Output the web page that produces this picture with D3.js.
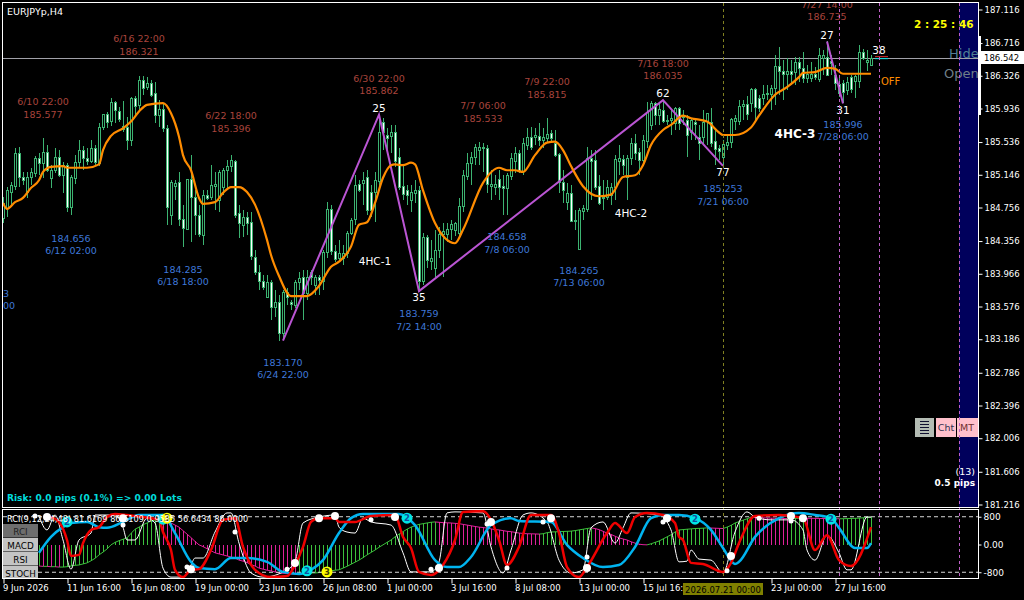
<!DOCTYPE html>
<html>
<head>
<meta charset="utf-8">
<script src="https://cdn.jsdelivr.net/npm/d3@7"></script>
<style>
    html, body { margin: 0; padding: 0; background: #000; overflow: hidden; }
    svg { display: block; }
    text { font-family: "DejaVu Sans", sans-serif; }
</style>
</head>
<body>
<svg id="chart" width="1024" height="600"></svg>
<script>
// candles, 4H bars
const opens = [
184.63,184.75,184.94,185.02,185.41,185.12,184.94,185.12,185.17,185.35,
185.29,185.42,185.11,185.20,185.36,185.14,185.26,184.76,185.11,185.30,
185.44,185.35,185.32,185.47,185.29,185.72,185.87,185.78,186.01,185.91,
185.70,185.72,185.56,186.06,185.98,186.28,186.19,186.24,186.12,185.86,
185.93,185.70,184.67,185.02,185.06,184.62,184.51,185.10,184.88,184.67,
184.43,184.91,184.88,185.02,184.85,185.00,185.20,185.25,185.31,184.69,
184.55,184.64,184.58,184.17,183.99,183.88,183.69,183.87,183.57,183.63,
183.26,183.75,183.63,183.59,183.87,183.93,183.74,183.99,183.83,183.93,
183.89,184.23,184.74,184.24,184.15,184.15,184.21,184.45,184.61,185.04,
185.04,185.12,184.94,184.94,185.08,185.78,185.62,185.61,185.66,185.36,
185.01,184.97,184.85,184.93,184.97,183.88,184.41,184.12,184.04,184.25,
184.44,184.44,184.50,184.49,184.45,184.77,185.14,185.29,185.36,185.44,
185.47,185.47,185.02,185.01,185.10,185.01,184.99,185.14,185.32,185.41,
185.20,185.51,185.60,185.60,185.61,185.56,185.58,185.64,185.53,185.39,
185.06,184.82,184.93,184.61,184.27,184.71,184.74,185.35,185.32,185.01,
184.88,184.88,184.91,185.00,185.32,185.33,185.12,185.35,185.53,185.42,
185.32,185.55,185.74,186.00,185.86,185.92,185.79,185.80,185.76,185.94,
185.85,185.80,185.66,185.78,185.60,185.60,185.78,185.78,185.55,185.47,
185.36,185.51,185.53,185.78,185.79,185.97,185.99,186.00,186.17,186.06,
186.06,186.11,186.11,186.18,186.44,186.38,186.35,186.38,186.37,186.49,
186.42,186.30,186.30,186.35,186.28,186.54,186.55,186.50,186.34,186.23,
186.24,186.16,186.31,186.26,186.26,186.61,186.49,186.46];
const highs = [
184.88,185.00,185.06,185.47,185.48,185.18,185.18,185.23,185.37,185.41,
185.58,185.50,185.26,185.47,185.44,185.30,185.29,185.14,185.38,185.56,
185.49,185.47,185.56,185.50,185.76,185.87,185.90,186.06,186.03,185.95,
186.03,185.84,186.07,186.09,186.32,186.32,186.31,186.28,186.25,186.04,
185.99,185.74,185.08,185.08,185.18,184.79,185.10,185.38,184.97,184.79,
184.97,184.97,185.26,185.18,185.20,185.23,185.32,185.38,185.32,184.79,
184.73,184.70,184.70,184.25,184.07,183.95,183.95,183.89,183.77,183.71,
183.77,183.80,183.65,183.89,183.99,184.01,184.01,184.01,183.95,183.95,
184.25,184.82,184.79,184.31,184.37,184.31,184.48,184.63,185.14,185.08,
185.18,185.20,185.02,185.18,185.86,185.82,185.70,185.74,185.74,185.47,
185.26,185.02,185.02,185.08,185.01,184.45,184.43,184.37,184.49,184.52,
184.57,184.57,184.61,184.58,184.87,185.20,185.41,185.42,185.51,185.54,
185.53,185.50,185.20,185.14,185.20,185.14,185.17,185.41,185.48,185.44,
185.59,185.70,185.72,185.70,185.76,185.70,185.82,185.68,185.68,185.41,
185.20,185.05,185.02,184.73,184.75,184.79,185.48,185.44,185.44,185.14,
185.08,185.08,185.05,185.38,185.50,185.38,185.38,185.58,185.63,185.47,
185.62,186.01,186.02,186.01,185.99,186.04,185.86,185.92,185.95,185.95,
185.92,185.86,185.82,185.82,185.74,185.92,185.88,185.94,185.68,185.50,
185.56,185.62,185.82,185.86,186.04,186.04,186.09,186.18,186.18,186.10,
186.22,186.22,186.22,186.57,186.67,186.51,186.54,186.51,186.55,186.55,
186.61,186.46,186.49,186.43,186.66,186.63,186.735,186.57,186.46,186.34,
186.28,186.31,186.34,186.34,186.69,186.65,186.63,186.57];
const lows = [
184.57,184.64,184.79,184.97,185.00,185.02,184.87,185.02,185.12,185.14,
185.11,185.18,184.99,185.17,185.12,184.93,184.70,184.67,185.04,185.23,
185.20,185.26,185.29,185.26,185.25,185.68,185.70,185.73,185.76,185.78,
185.66,185.44,185.49,185.86,185.92,186.10,186.16,186.07,185.76,185.72,
185.66,184.55,184.55,184.85,184.54,184.29,184.49,184.35,184.43,184.41,
184.31,184.85,184.85,184.73,184.70,184.91,184.97,185.18,184.63,184.39,
184.41,184.43,184.13,183.95,183.77,183.77,183.68,183.42,183.45,183.17,
183.18,183.59,183.53,183.56,183.77,183.42,183.65,183.83,183.71,183.71,
183.77,184.15,184.19,184.11,184.11,184.07,184.15,184.43,184.55,184.94,
184.79,184.67,184.64,184.58,184.96,185.44,185.44,185.41,185.24,184.97,
184.85,184.79,184.70,184.81,183.76,183.83,184.04,184.01,183.93,184.15,
183.93,184.35,184.37,184.42,184.40,184.70,185.08,185.02,185.26,185.26,
185.18,184.93,184.85,184.91,184.85,184.67,184.67,185.08,185.17,185.17,
185.14,185.44,185.44,185.50,185.49,185.47,185.53,185.53,185.36,184.93,
184.81,184.73,184.58,184.49,184.27,184.61,184.70,184.85,184.97,184.79,
184.73,184.85,184.79,184.85,185.14,185.14,184.85,185.26,185.32,185.14,
185.26,185.47,185.68,185.74,185.74,185.76,185.74,185.62,185.68,185.68,
185.74,185.36,185.56,185.56,185.32,185.50,185.50,185.48,185.26,185.32,
185.25,185.44,185.47,185.68,185.74,185.80,185.80,185.90,185.80,185.90,
185.98,186.04,185.92,185.98,186.10,186.04,186.16,186.22,186.22,186.25,
186.24,186.24,186.25,186.28,186.25,186.34,186.34,186.34,186.16,186.07,
185.996,186.10,186.12,186.06,186.18,186.51,186.38,186.44];
const closes = [
184.81,184.97,185.02,185.41,185.12,185.08,185.12,185.18,185.35,185.29,
185.42,185.20,185.20,185.36,185.14,185.26,184.76,185.12,185.30,185.44,
185.35,185.32,185.47,185.30,185.72,185.87,185.78,186.01,185.91,185.81,
185.73,185.56,186.06,185.97,186.28,186.19,186.24,186.10,185.86,185.93,
185.70,184.76,185.06,185.05,184.62,184.51,185.10,184.88,184.67,184.44,
184.91,184.88,185.02,185.04,185.18,185.20,185.25,185.32,184.67,184.57,
184.64,184.57,184.17,183.99,183.88,183.81,183.87,183.57,183.63,183.26,
183.75,183.69,183.61,183.87,183.92,183.74,183.93,183.93,183.93,183.89,
184.23,184.74,184.24,184.15,184.21,184.21,184.45,184.61,185.02,184.97,
185.08,184.73,184.73,185.08,185.66,185.66,185.59,185.66,185.32,185.00,
184.91,184.91,184.94,184.97,183.88,184.41,184.14,184.15,184.25,184.44,
184.47,184.50,184.56,184.57,184.77,185.14,185.29,185.36,185.48,185.48,
185.48,185.04,185.04,185.04,185.00,184.99,185.14,185.35,185.41,185.19,
185.53,185.60,185.48,185.62,185.56,185.60,185.63,185.58,185.39,185.06,
184.97,184.93,184.60,184.60,184.73,184.75,185.35,185.32,185.00,184.81,
184.87,185.00,185.00,185.33,185.35,185.26,185.35,185.53,185.41,185.32,
185.56,185.89,186.00,185.86,185.93,185.79,185.80,185.82,185.94,185.76,
185.84,185.62,185.80,185.76,185.53,185.78,185.88,185.53,185.45,185.43,
185.51,185.54,185.81,185.82,185.97,185.99,185.87,186.17,185.95,185.94,
186.11,186.12,186.18,186.44,186.38,186.35,186.38,186.35,186.49,186.42,
186.30,186.35,186.35,186.32,186.57,186.57,186.34,186.48,186.24,186.12,
186.13,186.25,186.17,186.32,186.61,186.54,186.51,186.542];

// orange moving average, read at these bars
const maBars = [0,1,3,5,7,9,10,12,15,16,21,24,25,27,30,32,34,36,40,42,44,45,47,49,50,53,55,57,59,61,63,66,67,69,72,76,79,82,84,87,89,91,93,95,97,98,100,102,103,105,108,113,115,120,124,126,128,130,133,136,138,140,142,145,149,152,155,158,160,162,165,167,170,172,176,179,180,183,187,189,193,196,199,200,203,206,208,210,217];
const maVals = [184.81,184.74,184.82,184.87,184.99,185.08,185.18,185.24,185.25,185.23,185.23,185.27,185.44,185.61,185.70,185.78,185.90,185.98,186.00,185.88,185.60,185.38,185.20,184.87,184.80,184.82,184.93,185.00,185.00,184.94,184.79,184.37,184.19,183.94,183.70,183.70,183.82,184.05,184.11,184.29,184.55,184.58,184.81,185.11,185.26,185.27,185.26,185.29,185.27,184.96,184.57,184.33,184.49,185.05,185.23,185.20,185.20,185.18,185.38,185.53,185.54,185.44,185.25,185.01,184.89,184.91,185.12,185.14,185.26,185.50,185.68,185.74,185.85,185.82,185.78,185.65,185.62,185.62,185.71,185.85,186.10,186.19,186.31,186.36,186.37,186.42,186.41,186.35,186.35];

// zigzag pivots
const zigBars1 = [70,94,104,165,180];
const zigVals1 = [183.170,185.862,183.759,186.035,185.253];
const zigBars2 = [206,210];
const zigVals2 = [186.735,185.996];

const priceTicks = [187.116,186.716,186.326,185.936,185.536,185.146,184.756,184.356,183.966,183.576,183.186,182.786,182.396,182.006,181.606,181.216];
const lastPrice = 186.542;

// pivot notes: [bar, text, text]
const highNotes = [[10,"6/10 22:00","185.577"],[34,"6/16 22:00","186.321"],[57,"6/22 18:00","185.396"],[94,"6/30 22:00","185.862"],[120,"7/7 06:00","185.533"],[136,"7/9 22:00","185.815"],[165,"7/16 18:00","186.035"],[206,"7/27 14:00","186.735"]];
const highNotePrices = [185.976,186.726,185.806,186.256,185.926,186.216,186.436,187.134];
const lowNotes = [[17,"184.656","6/12 02:00"],[45,"184.285","6/18 18:00"],[70,"183.170","6/24 22:00"],[104,"183.759","7/2 14:00"],[126,"184.658","7/8 06:00"],[144,"184.265","7/13 06:00"],[180,"185.253","7/21 06:00"],[210,"185.996","7/28 06:00"]];
const lowNotePrices = [184.348,183.978,182.868,183.448,184.368,183.968,184.938,185.708];
const waveCounts = [["25",94,185.898],["35",104,183.638],["62",165,186.068],["77",180,185.128],["27",206,186.768],["31",210,185.868],["38",219,186.588]];

// sub window
const histStart = 9;
const histVals = [
-62,-63,-63,-64,-64,-65,-65,-64,-62,-60,
-59,-56,-53,-47,-40,-30,-22,-13,-1,6,
11,15,19,32,44,50,57,62,68,70,
71,70,67,62,56,50,40,30,20,9,
-1,-6,-12,-18,-24,-27,-30,-33,-36,-39,
-45,-48,-52,-58,-62,-68,-71,-74,-76,-79,
-82,-83,-84,-84.5,-85,-84,-83,-83,-82,-82,
-81,-80,-79,-76,-74,-73,-68,-63,-57,-51,
-45,-38,-30,-23,-16,-8,-1,6,13,22,
30,37,44,50,54,58,60,62,64,65,
64,63,62.5,62,61,60,58,56,54,52,
50,49,47,45,43,42,40,38,37,35,
33,32,31,30.8,30.4,30,31,34,36,36.5,
37,37.5,38,38.5,40,42,44,46,48,46,
43,38,33,29,24,19,16,13,8,4,
1,-0.5,-1,2,6,10,16,22,28,36,
42,43,44,45,46,46.5,47,48,47.5,47,
46.5,46,50,55,62,66,70,74,79,78,
77.5,77,76.5,76,75.7,75.4,75.1,74.8,75,75.3,
75.6,75.9,75.7,75.5,75.3,75.1,74.9,74.7,74.5,74.3,
74.1,74.3,74.6,75,75.5,76,77,78,79];
const redBars = [12,14,16,17,19,20,22,24,26,28,31,35,39,40,42,43,45,47,49,52,55,58,60,63,67,71,73,75,77,79,83,84,88,92,98,100,102,104,107,110,113,115,120,122,124,126,129,132,137,139,141,144,146,151,153,156,158,161,165,168,169,170,172,175,180,182,184,188,194,200,203,206,209,212,217];
const redVals = [79,65,13,-33,-30,4,42,50,79,88,85,79,71,36,-16,-73,-94,-73,-71,-16,71,76,-7,-73,-94,-91,-59,-7,65,76,76,65,65,82,85,22,-10,-79,-88,-59,13,94,96,71,13,-59,-7,85,85,33,-65,-94,-65,33,62,33,79,91,85,62,22,13,-53,-56,-79,-53,4,82,85,76,-16,27,-45,-62,50];
const blueBars = [9,12,15,17,21,24,26,30,34,40,43,47,49,53,57,61,66,70,74,77,80,84,87,90,99,103,108,111,114,117,122,127,129,137,141,145,150,154,158,162,165,169,173,177,180,183,184,188,194,199,203,207,209,213,216,217];
const blueVals = [-24,22,50,62,65,50,48,65,85,85,33,-50,-68,-71,-39,-39,-50,-79,-85,-73,-45,33,76,88,88,56,-45,-65,-65,-36,56,76,68,65,-1,-39,-65,-59,-7,76,85,85,76,42,-10,-56,-50,22,76,91,85,76,48,-10,-10,4];
const whiteBars = [9,11,13,15,17,19,22,23,28,30,31,33,36,38,40,42,45,47,48,50,53,56,57,59,62,65,71,73,75,79,83,84,86,88,90,92,97,100,102,107,109,111,113,120,122,125,127,130,132,136,139,142,145,147,150,153,155,157,164,167,169,171,172,174,177,180,183,186,188,192,197,200,201,203,206,209,211,212,216,217];
const whiteVals = [82,42,85,13,-71,13,33,85,85,50,13,13,76,62,-68,-94,-94,-59,-39,-39,36,91,91,4,-82,-94,-73,-50,62,79,85,50,36,33,76,65,56,-24,-79,-79,-50,91,94,91,-7,-82,-16,85,91,65,-45,-82,-73,48,65,4,48,91,85,42,-50,-48,-16,-42,-45,-82,36,94,79,71,71,42,-16,-45,27,-24,-73,-73,79,79];
const bigDots = [[11,79],[30,76],[47,-71],[73,-53],[79,76],[83,82],[98,79],[109,-68],[122,65],[137,76],[146,-68],[166,76],[182,-33],[197,82],[200,76]];
const smallDots = [[8,82],[30,56],[58,36],[46,-65],[71,-71],[92,71],[107,-71],[121,59],[126,-68],[135,65],[146,-36],[165,65],[181,-76],[189,76],[197,68]];
const cyanBadges = [[16,65],[40,73],[76,-76],[101,76],[173,73],[207,73]];
const yellowBadges = [[41,76],[81,-79]];
const subTicks = [80,0,-80];
const subTickLabels = ["800","0.00","-800"];
const subTitle = "RCI(9,12,24,48) 81.6169 86.6109 0.9585 56.6434 86.0000";
const subButtons = ["RCI","MACD","RSI","STOCH"];

// bottom time axis
const timeBars = [0,16,32,48,64,80,96,112,128,144,160,192,208];
const timeLabels = ["9 Jun 2026","11 Jun 16:00","16 Jun 08:00","19 Jun 00:00","23 Jun 16:00","26 Jun 08:00","1 Jul 00:00","3 Jul 16:00","8 Jul 08:00","13 Jul 00:00","15 Jul 16:00","23 Jul 00:00","27 Jul 16:00"];
const vlineBars = [209,219,239];

const GREEN = "#3cb371", ORANGE = "#ff8c00", PURPLE = "#ba55d3",
    NOTE_RED = "#a8443c", NOTE_BLUE = "#3f78d8",
    HIST_UP = "#3cc03c", HIST_DOWN = "#e0209a";

let svg = d3.select("#chart");
let mainPanel = { left: 2.5, top: 2.5, right: 978.5, bottom: 507.5 };
let subPanel = { left: 2.5, top: 509.5, right: 978.5, bottom: 578.5 };

let x = d3.scaleLinear().domain([0, 217]).range([3, 871]);
let y = d3.scaleLinear().domain([187.116, 181.216]).range([9.5, 504.5]);
let ySub = d3.scaleLinear().domain([100, -100]).range([509.8, 579.2]);

let defs = svg.append("defs");
defs.append("clipPath").attr("id", "mainClip").append("rect")
    .attr("x", 3).attr("y", 3).attr("width", 975).attr("height", 504);
defs.append("clipPath").attr("id", "subClip").append("rect")
    .attr("x", 3).attr("y", 510).attr("width", 975).attr("height", 68);

// ---- main window ----
let main = svg.append("g").attr("clip-path", "url(#mainClip)");

main.append("rect").attr("x", x(239)).attr("y", 3).attr("width", 978 - x(239)).attr("height", 504)
    .attr("fill", "#00005c");

main.append("line").attr("x1", 3).attr("x2", 978).attr("y1", Math.round(y(lastPrice)) + 0.5).attr("y2", Math.round(y(lastPrice)) + 0.5)
    .attr("stroke", "#a0a0a8").attr("stroke-width", 1);

// candles
let candles = main.append("g").selectAll("g").data(opens).enter().append("g");
candles.append("line")
    .attr("x1", function (d, i) { return x(i) + 0.5; })
    .attr("x2", function (d, i) { return x(i) + 0.5; })
    .attr("y1", function (d, i) { return y(highs[i]); })
    .attr("y2", function (d, i) { return y(lows[i]); })
    .attr("stroke", GREEN).attr("shape-rendering", "crispEdges");
candles.append("rect")
    .attr("x", function (d, i) { return x(i) - 0.5; })
    .attr("width", 2)
    .attr("y", function (d, i) { return Math.round(y(Math.max(d, closes[i]))) + 0.5; })
    .attr("height", function (d, i) { return Math.max(1, Math.round(Math.abs(y(d) - y(closes[i])))); })
    .attr("fill", function (d, i) { return closes[i] >= d ? "#000" : "#fff"; })
    .attr("stroke", GREEN).attr("shape-rendering", "crispEdges");

let priceLine = d3.line().x(function (d) { return x(d[0]); }).y(function (d) { return y(d[1]); });

[[zigBars1, zigVals1], [zigBars2, zigVals2]].forEach(function (z) {
    main.append("path").attr("d", priceLine(d3.zip(z[0], z[1])))
        .attr("fill", "none").attr("stroke", PURPLE).attr("stroke-width", 2);
});
main.append("path").attr("d", priceLine.curve(d3.curveMonotoneX)(d3.zip(maBars, maVals)))
    .attr("fill", "none").attr("stroke", ORANGE).attr("stroke-width", 2.2);

// dashed verticals run through both windows
vlineBars.forEach(function (b) {
    svg.append("line").attr("x1", x(b) + 0.5).attr("x2", x(b) + 0.5).attr("y1", 3).attr("y2", 578)
        .attr("stroke", "#c060c8").attr("stroke-dasharray", "3,3");
});
svg.append("line").attr("x1", x(180) + 0.5).attr("x2", x(180) + 0.5).attr("y1", 3).attr("y2", 578)
    .attr("stroke", "#808020").attr("stroke-dasharray", "3,3");

// short last-price marks beside the count 38
main.append("line").attr("x1", 875).attr("x2", 888).attr("y1", y(lastPrice) - 1).attr("y2", y(lastPrice) - 1).attr("stroke", "#e03030").attr("stroke-width", 1);
main.append("line").attr("x1", 875).attr("x2", 888).attr("y1", y(lastPrice) + 1).attr("y2", y(lastPrice) + 1).attr("stroke", "#00e0e0").attr("stroke-width", 1);

// pivot labels
function noteLabels(notes, prices, color) {
    let g = main.append("g").attr("fill", color).attr("font-size", 9.5).attr("text-anchor", "middle");
    notes.forEach(function (n, i) {
        g.append("text").attr("x", x(n[0])).attr("y", y(prices[i])).text(n[1]);
        g.append("text").attr("x", x(n[0])).attr("y", y(prices[i]) + 12.5).text(n[2]);
    });
}
noteLabels(highNotes, highNotePrices, NOTE_RED);
noteLabels(lowNotes, lowNotePrices, NOTE_BLUE);
main.append("text").attr("x", 3).attr("y", 296.5).attr("fill", NOTE_BLUE).attr("font-size", 9.5).text("3");
main.append("text").attr("x", 3).attr("y", 309).attr("fill", NOTE_BLUE).attr("font-size", 9.5).text("00");

main.append("g").attr("fill", "#fff").attr("font-size", 10.5).attr("text-anchor", "middle")
    .selectAll("text").data(waveCounts).enter().append("text")
    .attr("x", function (d) { return x(d[1]); })
    .attr("y", function (d) { return y(d[2]); })
    .text(function (d) { return d[0]; });

main.append("text").attr("x", 375).attr("y", 265).attr("fill", "#fff").attr("font-size", 10.5).attr("text-anchor", "middle").text("4HC-1");
main.append("text").attr("x", 631).attr("y", 217).attr("fill", "#fff").attr("font-size", 10.5).attr("text-anchor", "middle").text("4HC-2");
main.append("text").attr("x", 795).attr("y", 138).attr("fill", "#fff").attr("font-size", 12).attr("text-anchor", "middle").attr("font-weight", "bold").text("4HC-3");
main.append("text").attr("x", 881).attr("y", 85).attr("fill", ORANGE).attr("font-size", 10).text("OFF");

main.append("text").attr("x", 7).attr("y", 15).attr("fill", "#fff").attr("font-size", 9.5).text("EURJPYp,H4");
main.append("text").attr("x", 914).attr("y", 28).attr("fill", "#ffff00").attr("font-size", 10.5).attr("font-weight", "bold").text("2 : 25 : 46");
main.append("text").attr("x", 949).attr("y", 58).attr("fill", "#4f7f95").attr("font-size", 13).text("Hide");
main.append("text").attr("x", 944).attr("y", 78).attr("fill", "#6f7f88").attr("font-size", 13).text("Open");
main.append("text").attr("x", 7).attr("y", 501).attr("fill", "#00dcdc").attr("font-size", 9.1).attr("font-weight", "bold").text("Risk: 0.0 pips (0.1%) => 0.00 Lots");
main.append("text").attr("x", 975).attr("y", 475).attr("fill", "#fff").attr("font-size", 9.5).attr("text-anchor", "end").text("(13)");
main.append("text").attr("x", 975).attr("y", 486).attr("fill", "#fff").attr("font-size", 9).attr("text-anchor", "end").attr("font-weight", "bold").text("0.5 pips");

// chart buttons
main.append("rect").attr("x", 915).attr("y", 418).attr("width", 19).attr("height", 19).attr("fill", "#b4bcb4");
[0, 1, 2, 3, 4].forEach(function (k) {
    main.append("line").attr("x1", 920).attr("x2", 929).attr("y1", 421.5 + k * 3).attr("y2", 421.5 + k * 3).attr("stroke", "#101030");
});
main.append("rect").attr("x", 936).attr("y", 418).attr("width", 20).attr("height", 19).attr("fill", "#ffc0cb");
main.append("rect").attr("x", 957).attr("y", 418).attr("width", 21).attr("height", 19).attr("fill", "#ffc0cb");
main.append("text").attr("x", 946).attr("y", 431).attr("font-size", 9.5).attr("text-anchor", "middle").attr("fill", "#303050").text("Cht");
main.append("text").attr("x", 967).attr("y", 431).attr("font-size", 9.5).attr("text-anchor", "middle").attr("fill", "#703030").text("MT");

// window frames
svg.append("rect").attr("x", mainPanel.left).attr("y", mainPanel.top)
    .attr("width", mainPanel.right - mainPanel.left).attr("height", mainPanel.bottom - mainPanel.top)
    .attr("fill", "none").attr("stroke", "#fff");
svg.append("rect").attr("x", subPanel.left).attr("y", subPanel.top)
    .attr("width", subPanel.right - subPanel.left).attr("height", subPanel.bottom - subPanel.top)
    .attr("fill", "none").attr("stroke", "#fff");

// price axis
let priceAxis = svg.append("g").attr("transform", "translate(978.5,0)")
    .call(d3.axisRight(y).tickValues(priceTicks).tickFormat(d3.format(".3f")).tickSize(4).tickPadding(2));
priceAxis.select(".domain").remove();
priceAxis.selectAll("line").attr("stroke", "#fff");
priceAxis.selectAll("text").attr("fill", "#fff").attr("font-size", 8.5).attr("font-family", "DejaVu Sans");
svg.append("rect").attr("x", 978).attr("y", 36).attr("width", 3).attr("height", 79).attr("fill", "#fff");
svg.append("rect").attr("x", 979).attr("y", 51).attr("width", 45).attr("height", 13).attr("fill", "#fff");
svg.append("text").attr("x", 984).attr("y", y(lastPrice) + 3).attr("font-size", 8.5).attr("fill", "#000").text(d3.format(".3f")(lastPrice));

// ---- sub window ----
let sub = svg.append("g").attr("clip-path", "url(#subClip)");

function histColor(i) { return i > 0 && histVals[i] < histVals[i - 1] ? HIST_DOWN : HIST_UP; }

sub.append("g").selectAll("line").data(histVals).enter().append("line")
    .attr("x1", function (d, i) { return x(histStart + i) + 0.5; })
    .attr("x2", function (d, i) { return x(histStart + i) + 0.5; })
    .attr("y1", ySub(0))
    .attr("y2", function (d) { return ySub(d); })
    .attr("stroke", function (d, i) { return histColor(i); })
    .attr("shape-rendering", "crispEdges");

// outline along the bar tops, same colour rule as the bars
sub.append("g").selectAll("line").data(histVals.slice(1)).enter().append("line")
    .attr("x1", function (d, i) { return x(histStart + i); })
    .attr("x2", function (d, i) { return x(histStart + i + 1); })
    .attr("y1", function (d, i) { return ySub(histVals[i]); })
    .attr("y2", function (d) { return ySub(d); })
    .attr("stroke", function (d, i) { return histColor(i + 1); });

subTicks.filter(function (t) { return t !== 0; }).forEach(function (t) {
    sub.append("line").attr("x1", 3).attr("x2", 978).attr("y1", ySub(t)).attr("y2", ySub(t))
        .attr("stroke", "#d8d8d8").attr("stroke-dasharray", "4,3");
});

let subLine = d3.line().x(function (d) { return x(d[0]); }).y(function (d) { return ySub(d[1]); }).curve(d3.curveMonotoneX);

sub.append("path").attr("d", subLine(d3.zip(whiteBars, whiteVals))).attr("fill", "none").attr("stroke", "#fff").attr("stroke-width", 1);
sub.append("path").attr("d", subLine(d3.zip(blueBars, blueVals))).attr("fill", "none").attr("stroke", "#00b4f0").attr("stroke-width", 2.5);
sub.append("path").attr("d", subLine(d3.zip(redBars, redVals))).attr("fill", "none").attr("stroke", "#f00000").attr("stroke-width", 2.5);

function dots(data, r) {
    sub.append("g").selectAll("circle").data(data).enter().append("circle")
        .attr("cx", function (d) { return x(d[0]); })
        .attr("cy", function (d) { return ySub(d[1]); })
        .attr("r", r).attr("fill", "#fff");
}
dots(bigDots, 4);
dots(smallDots, 2.5);

function badges(data, color, label, ink) {
    let g = sub.append("g");
    g.selectAll("circle").data(data).enter().append("circle")
        .attr("cx", function (d) { return x(d[0]); })
        .attr("cy", function (d) { return ySub(d[1]); })
        .attr("r", 5.5).attr("fill", color);
    g.selectAll("text").data(data).enter().append("text")
        .attr("x", function (d) { return x(d[0]); })
        .attr("y", function (d) { return ySub(d[1]) + 3; })
        .attr("text-anchor", "middle").attr("font-size", 8.5).attr("font-weight", "bold")
        .attr("fill", ink).text(label);
}
badges(cyanBadges, "#00e5e5", "2", "#1050a0");
badges(yellowBadges, "#ffff00", "3", "#404000");

sub.append("text").attr("x", 7).attr("y", 522).attr("fill", "#fff").attr("font-size", 8.2).text(subTitle);

let buttons = sub.append("g").selectAll("g").data(subButtons).enter().append("g");
buttons.append("rect").attr("x", 3).attr("y", function (d, i) { return 524 + i * 14; })
    .attr("width", 35).attr("height", 13.5)
    .attr("fill", function (d, i) { return i === 0 ? "#6e6e6e" : "#c4c4c4"; });
buttons.append("text").attr("x", 20.5).attr("y", function (d, i) { return 534.5 + i * 14; })
    .attr("text-anchor", "middle").attr("font-size", 8.8)
    .attr("fill", function (d, i) { return i === 0 ? "#222" : "#000"; }).text(function (d) { return d; });

// sub axis labels
let subAxis = svg.append("g").attr("transform", "translate(978.5,0)")
    .call(d3.axisRight(ySub).tickValues(subTicks).tickFormat(function (d, i) { return subTickLabels[i]; }).tickSize(3).tickPadding(2));
subAxis.select(".domain").remove();
subAxis.selectAll("line").attr("stroke", "#fff");
subAxis.selectAll("text").attr("fill", "#fff").attr("font-size", 9);

// time axis
let timeAxis = svg.append("g").attr("transform", "translate(0.5,578.5)")
    .call(d3.axisBottom(x).tickValues(timeBars).tickFormat(function (d, i) { return timeLabels[i]; }).tickSize(5).tickPadding(3));
timeAxis.select(".domain").remove();
timeAxis.selectAll("line").attr("stroke", "#fff");
timeAxis.selectAll("text").attr("fill", "#fff").attr("font-size", 8.5).attr("text-anchor", "start")
    .attr("dx", "-1").attr("y", 6).attr("dy", "0.75em");

svg.append("rect").attr("x", 683).attr("y", 583).attr("width", 80).attr("height", 12).attr("fill", "#808000");
svg.append("text").attr("x", 723).attr("y", 592.5).attr("text-anchor", "middle").attr("font-size", 8.5).attr("fill", "#000").text("2026.07.21 00:00");
</script>
</body>
</html>
